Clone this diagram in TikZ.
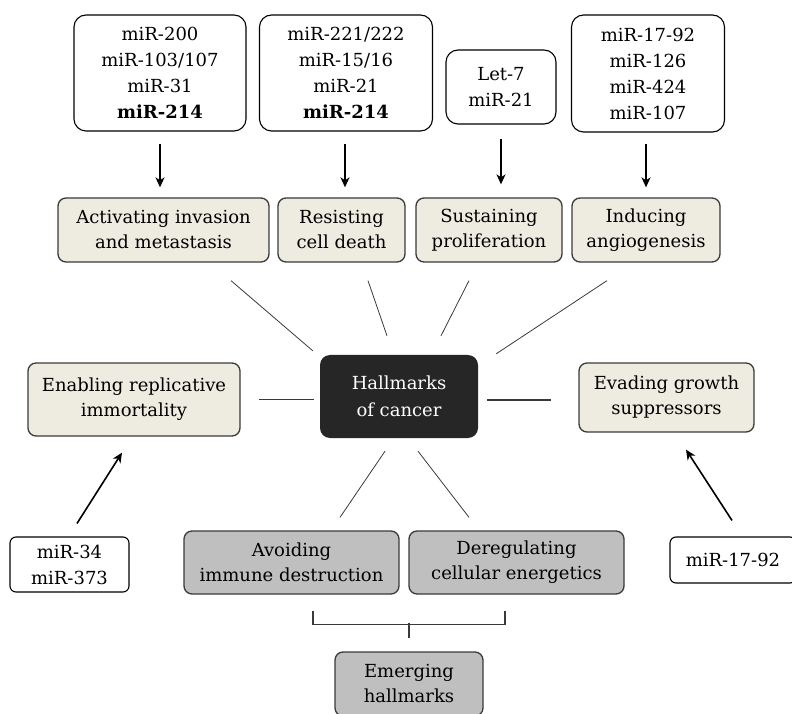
\documentclass[tikz,border=0pt]{standalone}
\usepackage{fontspec}
\setmainfont{DejaVu Serif}
\usetikzlibrary{arrows.meta,calc}

\definecolor{hallbeige}{HTML}{EEEBE0}
\definecolor{hallgray}{HTML}{BFBFBF}
\definecolor{halldark}{HTML}{262626}
\definecolor{edgegray}{HTML}{3A3A3A}

\begin{document}
\begin{tikzpicture}[
    x=1pt, y=1pt,
    mirna/.style={rectangle, rounded corners=12pt, draw=black, line width=1.1pt, fill=white, align=center, inner sep=2pt, font=\fontsize{18}{26}\selectfont},
    mirsmall/.style={mirna, rounded corners=6pt},
    hallmark/.style={rectangle, rounded corners=8pt, draw=edgegray, line width=1.3pt, fill=hallbeige, align=center, inner sep=2pt, font=\fontsize{18}{25}\selectfont},
    emerging/.style={hallmark, fill=hallgray},
    core/.style={rectangle, rounded corners=10pt, fill=halldark, text=white, align=center, font=\fontsize{18}{27}\selectfont},
    arrow/.style={-{Stealth[length=10pt,width=9pt,inset=3pt]}, line width=1.6pt},
    spoke/.style={draw=edgegray, line width=0.8pt},
    bracket/.style={draw=edgegray, line width=1.1pt}
]
    \useasboundingbox (0,0) rectangle (792,713);

    % miRNA boxes on top
    \node[mirna, minimum width=172pt, minimum height=116pt] (mA) at (160,640) {miR-200\\miR-103/107\\miR-31\\\textbf{miR-214}};
    \node[mirna, minimum width=173pt, minimum height=116pt] (mB) at (346,640) {miR-221/222\\miR-15/16\\miR-21\\\textbf{miR-214}};
    \node[mirna, minimum width=110pt, minimum height=74pt] (mC) at (501,626) {Let-7\\miR-21};
    \node[mirna, minimum width=153pt, minimum height=117pt] (mD) at (648,639.5) {miR-17-92\\miR-126\\miR-424\\miR-107};

    % Hallmark row
    \node[hallmark, minimum width=211pt, minimum height=64pt] (act) at (163.5,483) {Activating invasion\\and metastasis};
    \node[hallmark, minimum width=127pt, minimum height=64pt] (res) at (341.5,483) {Resisting\\cell death};
    \node[hallmark, minimum width=146pt, minimum height=64pt] (sus) at (489,483) {Sustaining\\proliferation};
    \node[hallmark, minimum width=148pt, minimum height=64pt] (ind) at (646,483) {Inducing\\angiogenesis};

    % Centre and sides
    \node[core, minimum width=158pt, minimum height=83pt] (hall) at (399,316.5) {Hallmarks\\of cancer};
    \node[hallmark, minimum width=212pt, minimum height=73pt] (enab) at (134,313.5) {Enabling replicative\\immortality};
    \node[hallmark, minimum width=175pt, minimum height=69pt] (evad) at (666.5,315.5) {Evading growth\\suppressors};

    % Emerging hallmarks
    \node[emerging, minimum width=215pt, minimum height=63pt] (avoid) at (291.5,150.5) {Avoiding\\immune destruction};
    \node[emerging, minimum width=215pt, minimum height=63pt] (dereg) at (516.5,150.5) {Deregulating\\cellular energetics};
    \node[emerging, minimum width=148pt, minimum height=64pt] (emerg) at (409,29) {Emerging\\hallmarks};

    % Side miRNA boxes
    \node[mirsmall, minimum width=119pt, minimum height=55pt] (m34) at (69.5,148.5) {miR-34\\miR-373};
    \node[mirsmall, minimum width=126pt, minimum height=46pt] (m1792) at (733,153) {miR-17-92};

    % Arrows
    \draw[arrow, shorten <=12pt, shorten >=10pt] (mA.south) -- (mA.south |- act.north);
    \draw[arrow, shorten <=12pt, shorten >=10pt] ([xshift=-1pt]mB.south) -- ([xshift=-1pt]mB.south |- res.north);
    \draw[arrow, shorten <=14pt, shorten >=13pt] (mC.south) -- (mC.south |- sus.north);
    \draw[arrow, shorten <=11pt, shorten >=10pt] ([xshift=-2pt]mD.south) -- ([xshift=-2pt]mD.south |- ind.north);
    \draw[arrow] ($(m34.north)+(7.5,13)$) -- ($(enab.south)+(-12,-16)$);
    \draw[arrow] ($(m1792.north)+(-1,16)$) -- ($(evad.south)+(19.5,-17)$);

    % Spokes
    \draw[spoke] ($(act.south)+(67.5,-18)$) -- ($(hall.north west)+(-7,4)$);
    \draw[spoke] ($(res.south)+(26.5,-18)$) -- ($(hall.north)+(-12,19)$);
    \draw[spoke] ($(sus.south)+(-20,-18)$) -- ($(hall.north)+(42,19)$);
    \draw[spoke] ($(ind.south)+(-39,-18)$) -- ($(hall.north east)+(18,1)$);
    \draw[spoke, line width=1.1pt] ($(enab.east)+(18,0)$) -- ($(hall.west)+(-6,-3)$);
    \draw[spoke, line width=1.1pt] ($(hall.east)+(9,-3.5)$) -- ($(evad.west)+(-27,-2.5)$);
    \draw[spoke] ($(hall.south)+(-14,-13)$) -- ($(avoid.north)+(48.5,13)$);
    \draw[spoke] ($(hall.south)+(19,-13)$) -- ($(dereg.north)+(-47.5,13)$);

    % Bracket
    \draw[bracket] ($(avoid.south)+(21.5,-16)$) |- ($(dereg.south)+(-11.5,-30)$) -- ++(0,14);
    \draw[bracket, line width=2pt] ($(emerg.north)+(0,13)$) -- ++(0,15);

\end{tikzpicture}
\end{document}
